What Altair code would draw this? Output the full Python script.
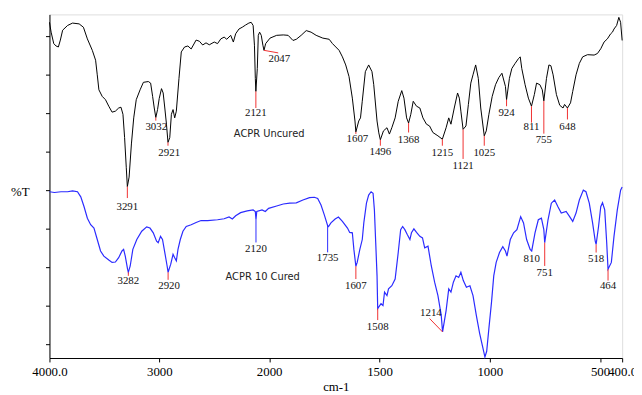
import altair as alt
import pandas as pd

# ---------------- spectrum data (wavenumber cm-1, %T arbitrary units) ----------------
black_wn = [4000, 3985, 3961, 3940, 3919, 3901, 3880, 3835, 3790, 3730, 3691, 3655, 3610, 3580, 3565, 3550,
            3520, 3490, 3460, 3430, 3400, 3370, 3349, 3331, 3316, 3301, 3291, 3275, 3254, 3233, 3210, 3175,
            3145, 3100, 3079, 3061, 3046, 3032, 3016, 3001, 2980, 2965, 2950, 2935, 2921, 2905, 2890, 2875,
            2860, 2845, 2821, 2800, 2770, 2740, 2710, 2665, 2635, 2605, 2575, 2545, 2500, 2470, 2440, 2410,
            2386, 2350, 2326, 2305, 2275, 2245, 2215, 2185, 2164, 2146, 2134, 2126, 2121, 2108, 2099, 2087,
            2072, 2057, 2047, 2032, 1996, 1966, 1936, 1914, 1892, 1877, 1855, 1832, 1810, 1787, 1757, 1728,
            1713, 1698, 1683, 1668, 1653, 1638, 1623, 1611, 1607, 1594, 1586, 1578, 1564, 1549, 1534, 1526,
            1511, 1503, 1496, 1482, 1466, 1455, 1444, 1429, 1415, 1399, 1389, 1377, 1368, 1358, 1347, 1332,
            1317, 1303, 1287, 1273, 1258, 1235, 1215, 1198, 1186, 1176, 1161, 1146, 1138, 1131, 1121, 1108,
            1097, 1086, 1076, 1064, 1052, 1041, 1025, 1016, 1004, 989, 974, 959, 945, 929, 924, 911,
            900, 885, 870, 862, 855, 840, 825, 811, 798, 788, 773, 762, 755, 743, 732, 723,
            713, 698, 683, 668, 661, 648, 634, 624, 609, 594, 579, 557, 527, 512, 497, 482,
            467, 452, 444, 437, 425, 415, 407, 400]
black_t = [85.0, 82.5, 79.6, 79.0, 78.75, 80.5, 83.0, 84.2, 84.8, 84.6, 83.75, 80.8, 77.9, 75.4, 71.7, 67.9,
           66.25, 65.4, 63.75, 62.25, 62.5, 63.3, 63.5, 61.7, 55.8, 48.3, 43.4, 45.8, 54.2, 60.8, 65.4, 67.9,
           69.8, 70.0, 69.6, 66.25, 63.3, 60.9, 62.9, 65.7, 68.2, 67.1, 63.3, 59.2, 54.6, 55.8, 61.7, 62.9,
           60.8, 62.5, 70.8, 77.5, 78.75, 79.0, 78.25, 80.5, 80.2, 79.25, 79.8, 79.3, 80.0, 79.6, 80.8, 81.25,
           80.7, 81.7, 80.0, 82.1, 83.3, 83.75, 84.3, 84.8, 85.0, 84.2, 79.2, 70.8, 67.5, 73.3, 81.7, 82.5,
           81.7, 79.2, 77.9, 79.6, 81.0, 81.7, 81.8, 81.7, 80.4, 80.7, 81.7, 82.9, 82.5, 81.7, 81.0, 80.7,
           79.6, 78.75, 77.9, 76.25, 74.2, 71.25, 65.8, 60.0, 57.25, 60.0, 60.8, 65.0, 72.5, 74.2, 72.5, 69.2,
           60.0, 57.0, 55.25, 57.5, 58.3, 56.7, 58.3, 60.8, 65.0, 67.7, 65.8, 60.8, 59.5, 61.7, 65.0, 63.75,
           63.3, 60.8, 59.2, 58.75, 57.1, 56.25, 55.4, 58.3, 60.8, 59.2, 63.3, 67.1, 65.8, 62.5, 57.9, 58.75,
           64.2, 69.6, 71.7, 74.2, 70.8, 63.3, 56.25, 57.5, 61.7, 66.25, 69.2, 71.0, 72.1, 68.75, 65.4, 70.8,
           73.3, 74.6, 75.8, 76.25, 73.3, 69.2, 65.8, 63.75, 66.7, 69.6, 69.2, 67.9, 65.1, 70.8, 74.2, 74.0,
           71.7, 66.7, 64.0, 63.3, 64.2, 63.3, 64.6, 67.5, 71.7, 74.6, 76.25, 76.8, 76.7, 77.1, 78.3, 80.0,
           80.8, 82.1, 82.5, 83.3, 84.2, 86.25, 85.0, 80.4]

blue_wn = [4000, 3955, 3895, 3835, 3790, 3745, 3715, 3685, 3655, 3625, 3595, 3565, 3535, 3505, 3460, 3430,
           3400, 3370, 3340, 3325, 3310, 3289, 3282, 3265, 3241, 3205, 3160, 3115, 3085, 3055, 3025, 3010,
           2989, 2971, 2950, 2929, 2920, 2896, 2875, 2860, 2845, 2830, 2809, 2785, 2755, 2710, 2665, 2620,
           2560, 2470, 2410, 2365, 2335, 2305, 2260, 2200, 2146, 2126, 2120, 2113, 2065, 2035, 2005, 1966,
           1936, 1907, 1877, 1847, 1817, 1795, 1780, 1765, 1750, 1735, 1731, 1720, 1701, 1686, 1668, 1645,
           1635, 1623, 1616, 1607, 1601, 1589, 1578, 1571, 1559, 1549, 1538, 1529, 1523, 1517, 1511, 1508,
           1493, 1484, 1477, 1466, 1459, 1444, 1429, 1415, 1404, 1395, 1385, 1374, 1362, 1355, 1344, 1332,
           1317, 1305, 1295, 1280, 1265, 1250, 1235, 1220, 1214, 1198, 1186, 1176, 1165, 1153, 1141, 1131,
           1120, 1106, 1090, 1076, 1061, 1046, 1031, 1022, 1014, 1004, 992, 982, 971, 956, 941, 929,
           922, 907, 892, 877, 860, 847, 833, 817, 810, 795, 780, 766, 755, 751, 736, 721,
           706, 691, 676, 654, 638, 624, 609, 594, 576, 564, 549, 534, 522, 518, 507, 497,
           489, 479, 470, 464, 449, 437, 422, 407, 400]
blue_t = [42.1, 41.9, 42.1, 42.1, 42.3, 42.1, 40.8, 38.3, 35.4, 33.75, 32.9, 30.0, 27.1, 25.8, 24.8, 24.2,
          24.3, 25.4, 27.1, 27.5, 25.8, 22.5, 21.7, 23.3, 27.5, 30.0, 32.1, 33.2, 32.9, 31.7, 29.6, 29.2,
          30.8, 30.0, 26.7, 23.3, 21.7, 23.75, 26.25, 25.4, 24.6, 27.5, 30.0, 32.1, 33.3, 33.75, 34.3, 34.8,
          34.8, 35.0, 35.25, 35.7, 35.2, 36.0, 36.8, 37.25, 37.5, 37.1, 35.0, 37.1, 37.5, 37.1, 37.9, 38.5,
          39.0, 39.2, 39.3, 40.0, 40.6, 40.7, 40.4, 38.75, 36.25, 33.5, 33.3, 34.2, 35.2, 35.7, 34.6, 32.9,
          31.8, 31.7, 27.5, 23.25, 24.2, 27.5, 30.0, 34.2, 39.2, 41.25, 42.1, 41.7, 37.5, 29.2, 20.8, 12.5,
          13.75, 13.3, 16.7, 15.8, 17.5, 18.3, 20.0, 26.7, 32.5, 33.3, 32.5, 31.25, 30.0, 31.7, 32.7, 31.8,
          30.8, 30.4, 27.9, 28.3, 23.3, 19.2, 15.8, 10.8, 6.6, 12.0, 17.5, 16.7, 19.2, 20.8, 20.4, 21.7,
          19.6, 17.9, 18.3, 15.8, 10.8, 6.25, 2.5, 0.25, 1.7, 7.5, 14.2, 20.8, 24.2, 26.7, 28.2, 27.1,
          25.8, 30.0, 31.7, 32.5, 35.8, 34.2, 30.0, 27.5, 27.1, 31.7, 35.0, 35.4, 32.5, 29.2, 35.0, 39.2,
          40.0, 38.3, 36.7, 37.1, 35.8, 34.6, 36.7, 40.0, 42.5, 42.1, 39.2, 34.2, 29.6, 28.75, 33.3, 38.3,
          39.3, 37.5, 29.2, 22.5, 24.2, 30.8, 37.5, 42.5, 43.3]

# ---------------- peak annotations ----------------
peak_labels = ["3291", "3032", "2921", "2121", "2047", "1607", "1496", "1368", "1215", "1121", "1025",
               "924", "811", "755", "648",
               "3282", "2920", "2120", "1735", "1607", "1508", "1214", "810", "751", "518", "464"]
peak_wn = [3291, 3032, 2921, 2121, 2047, 1607, 1496, 1368, 1215, 1121, 1025, 924, 811, 755, 648,
           3282, 2920, 2120, 1735, 1607, 1508, 1214, 810, 751, 518, 464]
peak_t = [43.4, 60.9, 54.6, 67.5, 77.9, 57.25, 55.25, 59.5, 55.4, 57.9, 56.25, 65.4, 63.75, 65.1, 63.3,
          21.7, 21.7, 35.0, 33.5, 23.25, 12.5, 6.6, 27.1, 29.2, 28.75, 22.5]
leader_end_wn = [3291, 3032, 2921, 2121, 1959, 1607, 1496, 1368, 1215, 1121, 1025, 924, 811, 755, 648,
                 3282, 2920, 2120, 1735, 1607, 1508, 1273, 810, 751, 518, 464]
leader_end_t = [40.5, 60.1, 53.75, 63.3, 77.25, 56.75, 53.75, 57.1, 53.75, 50.4, 53.75, 63.75, 59.6, 56.8, 60.4,
                20.8, 19.8, 29.25, 26.75, 20.0, 9.6, 10.0, 27.1, 23.3, 26.7, 19.6]
text_wn = [3291, 3028, 2910, 2121, 1954, 1600, 1496, 1368, 1215, 1121, 1025, 924, 811, 755, 648,
           3282, 2911, 2120, 1735, 1607, 1508, 1267, 810, 751, 518, 464]
text_t = [38.3, 58.5, 51.8, 62.1, 75.6, 55.5, 52.1, 55.25, 51.9, 48.5, 51.9, 62.1, 58.5, 55.3, 58.5,
          19.6, 18.2, 27.7, 25.2, 18.3, 7.9, 11.3, 25.0, 21.5, 25.0, 18.2]
leader_color = ["#f03030"] * 17 + ["#2b2bff", "#2b2bff"] + ["#f03030"] * 7

series_names = ["ACPR Uncured", "ACPR 10 Cured"]
series_name_wn = [2000, 2059]
series_name_t = [56.7, 20.4]

x_ticks = [4000, 3000, 2000, 1500, 1000, 500, 400]
y_ticks = [3.5, 13.25, 23.0, 32.75, 42.5, 52.25, 62.0, 71.75, 81.5]

# ---------------- tables ----------------
black_df = pd.DataFrame({"wn": black_wn, "t": black_t, "i": range(len(black_wn))})
blue_df = pd.DataFrame({"wn": blue_wn, "t": blue_t, "i": range(len(blue_wn))})
ann_df = pd.DataFrame({"label": peak_labels, "wn": peak_wn, "t": peak_t,
                       "wn2": leader_end_wn, "t2": leader_end_t,
                       "tx": text_wn, "ty": text_t, "col": leader_color})
name_df = pd.DataFrame({"name": series_names, "wn": series_name_wn, "t": series_name_t})

x_scale = alt.Scale(domain=[4000, 2000, 400], range=[0, 222.5, 580], nice=False, zero=False)
y_scale = alt.Scale(domain=[0, 87], nice=False, zero=False)

x_axis = alt.Axis(values=x_ticks,
                  labelExpr="datum.value == 4000 ? '4000.0' : (datum.value == 400 ? '400.0' : '' + datum.value)",
                  labelFont="Liberation Serif", labelFontSize=13, labelColor="black",
                  labelOverlap=False, labelFlush=False, labelPadding=4,
                  tickSize=4, tickColor="black", domainColor="black", grid=False,
                  title="cm-1", titleFont="Liberation Serif", titleFontSize=13,
                  titleFontWeight="normal", titleColor="black", titlePadding=2)
y_axis = alt.Axis(values=y_ticks, labels=False, tickSize=4, tickColor="black", domainColor="black",
                  grid=False, title="%T", titleAngle=0, titleX=-30, titleY=179, titleAlign="center",
                  titleBaseline="middle", titleFont="Liberation Serif", titleFontSize=13,
                  titleFontWeight="normal", titleColor="black")

black_line = alt.Chart(black_df).mark_line(color="black", strokeWidth=1).encode(
    x=alt.X("wn:Q", scale=x_scale, axis=x_axis),
    y=alt.Y("t:Q", scale=y_scale, axis=y_axis),
    order="i:Q")
blue_line = alt.Chart(blue_df).mark_line(color="#2b2bff", strokeWidth=1.2).encode(
    x=alt.X("wn:Q", scale=x_scale),
    y=alt.Y("t:Q", scale=y_scale),
    order="i:Q")
leaders = alt.Chart(ann_df).mark_rule(strokeWidth=1).encode(
    x=alt.X("wn:Q", scale=x_scale), x2="wn2:Q",
    y=alt.Y("t:Q", scale=y_scale), y2="t2:Q",
    color=alt.Color("col:N", scale=None))
peak_text = alt.Chart(ann_df).mark_text(font="Liberation Serif", fontSize=11, color="#111111",
                                        align="center", baseline="middle").encode(
    x=alt.X("tx:Q", scale=x_scale),
    y=alt.Y("ty:Q", scale=y_scale),
    text="label:N")
names = alt.Chart(name_df).mark_text(font="DejaVu Sans", fontSize=10, color="#222222",
                                     align="center", baseline="middle").encode(
    x=alt.X("wn:Q", scale=x_scale),
    y=alt.Y("t:Q", scale=y_scale),
    text="name:N")

chart = alt.layer(black_line, blue_line, leaders, peak_text, names).properties(
    width=580, height=348,
    autosize=alt.AutoSizeParams(type="none"),
    padding={"left": 42, "top": 4, "right": 12, "bottom": 36},
).configure_view(stroke=None).configure(background="white")

chart.save("out.html", embed_options={"renderer": "svg", "actions": False})
